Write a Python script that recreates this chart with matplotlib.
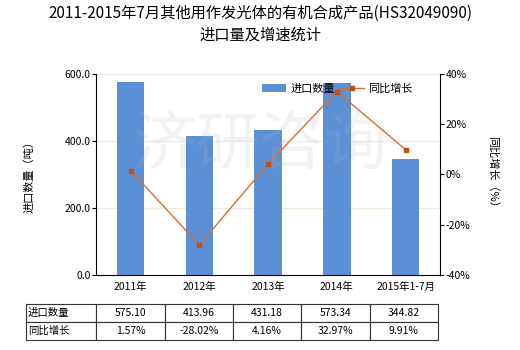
import matplotlib.pyplot as plt

plt.rcParams['font.family'] = ['Noto Sans CJK SC', 'DejaVu Sans']
plt.rcParams['axes.unicode_minus'] = False

years = ['2011年', '2012年', '2013年', '2014年', '2015年1-7月']
volume = [575.10, 413.96, 431.18, 573.34, 344.82]
growth = [1.57, -28.02, 4.16, 32.97, 9.91]

bar_color = '#5B8FD6'
line_color = '#DD6A26'

fig = plt.figure(figsize=(5.2, 3.5), dpi=100)
ax = fig.add_axes([0.185, 0.214, 0.661, 0.575])
ax2 = ax.twinx()

x = list(range(len(years)))
ax.bar(x, volume, width=0.4, color=bar_color, label='进口数量', zorder=2)
ax2.plot(x, growth, color=line_color, lw=1, marker='s', ms=3.5,
         markerfacecolor='#C0500E', markeredgecolor='#C0500E', label='同比增长', zorder=3)

ax.set_xlim(-0.5, len(years) - 0.5)
ax.set_ylim(0, 600)
ax.set_yticks([0, 200, 400, 600])
ax.set_yticklabels(['0.0', '200.0', '400.0', '600.0'], fontsize=7.5)
ax.grid(axis='y', color='#EEEBDD', lw=0.8, zorder=0)
ax2.set_ylim(-40, 40)
ax2.set_yticks([-40, -20, 0, 20, 40])
ax2.set_yticklabels([f'{v}%' for v in [-40, -20, 0, 20, 40]], fontsize=7.5)
ax.set_xticks(x)
ax.set_xticklabels(years, fontsize=7.5)
ax.tick_params(axis='x', length=0, pad=5)
ax.tick_params(axis='y', length=3, pad=1)
ax2.tick_params(axis='y', length=3, pad=1)

for a in (ax, ax2):
    a.spines['top'].set_visible(False)
ax.spines['right'].set_visible(False)
ax2.spines['bottom'].set_visible(False)
ax2.spines['left'].set_visible(False)

ax.set_ylabel('进口数量（吨）', fontsize=8, labelpad=22)
ax2.set_ylabel('同比增长（%）', fontsize=8, rotation=270, labelpad=20)

h1, l1 = ax.get_legend_handles_labels()
h2, l2 = ax2.get_legend_handles_labels()
ax2.legend(h1 + h2, l1 + l2, loc='upper right', bbox_to_anchor=(0.95, 1.0), ncol=2,
           frameon=False, fontsize=8, handlelength=2.2, handletextpad=0.4,
           columnspacing=0.4)

ax.set_zorder(ax2.get_zorder() - 1)
ax2.patch.set_visible(False)

# faint watermark over the plot area
wm = fig.text(0.5, 0.58, '济研咨询', fontsize=46, color='#B8B8B8', ha='center', va='center',
              alpha=0.18)
wm.set_zorder(5)

fig.suptitle('2011-2015年7月其他用作发光体的有机合成产品(HS32049090)\n进口量及增速统计',
             fontsize=11, y=0.985, linespacing=1.3)

cells = [['进口数量'] + [f'{v:.2f}' for v in volume],
         ['同比增长'] + [f'{v:.2f}%' for v in growth]]
tbl = ax.table(cellText=cells, bbox=[-0.203, -0.323, 1.197, 0.179], cellLoc='center')
tbl.auto_set_font_size(False)
tbl.set_fontsize(7.5)
w0 = 70 / 412
for (r, c), cell in tbl.get_celld().items():
    cell.set_linewidth(0.8)
    cell.set_edgecolor('#333333')
    cell.set_width(w0 if c == 0 else (1 - w0) / 5)
    if c == 0:
        cell.get_text().set_ha('left')
        cell.PAD = 0.02

fig.savefig('out.png', dpi=100)
